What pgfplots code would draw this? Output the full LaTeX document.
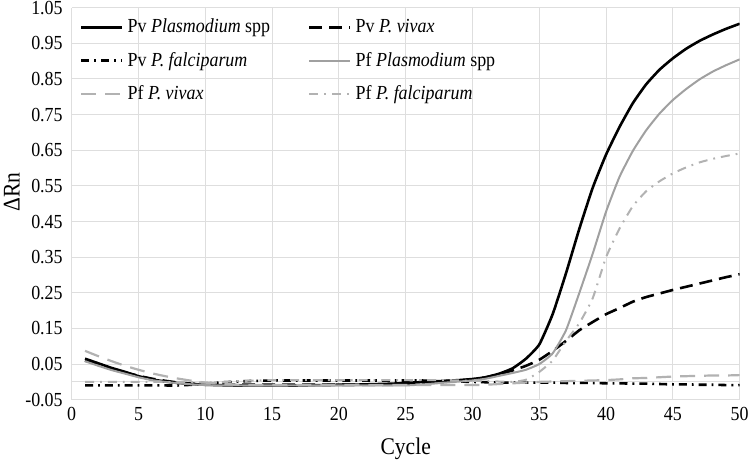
\documentclass[border=0pt]{standalone}
\usepackage{fontspec}
\setmainfont{Liberation Serif}[FakeStretch=0.9]
\usepackage{pgfplots}
\usepackage{pgfplotstable}
\pgfplotsset{compat=1.18}
\definecolor{gridgray}{HTML}{DEDEDE}
\definecolor{pfsolid}{HTML}{A0A0A0}
\definecolor{pflight}{HTML}{B2B2B2}

\pgfplotstableread{
c pvspp pvviv pvfal pfspp pfviv pffal
1 0.065 0.060 -0.010 0.058 0.087 0.000
2 0.052 0.048 -0.010 0.045 0.072 0.000
3 0.039 0.036 -0.010 0.033 0.058 0.000
4 0.028 0.026 -0.010 0.023 0.045 0.000
5 0.016 0.017 -0.010 0.013 0.034 0.000
6 0.007 0.009 -0.010 0.005 0.024 0.000
7 0.001 0.003 -0.010 0.000 0.016 0.000
8 -0.003 -0.002 -0.010 -0.004 0.009 0.000
9 -0.006 -0.005 -0.008 -0.007 0.003 -0.001
10 -0.008 -0.007 -0.005 -0.009 -0.002 -0.002
11 -0.009 -0.008 -0.002 -0.010 -0.005 -0.001
12 -0.010 -0.008 0.000 -0.010 -0.007 0.001
13 -0.010 -0.008 0.002 -0.010 -0.009 0.003
14 -0.010 -0.008 0.003 -0.010 -0.009 0.004
15 -0.010 -0.008 0.004 -0.010 -0.009 0.005
16 -0.010 -0.008 0.004 -0.010 -0.009 0.005
17 -0.010 -0.008 0.004 -0.010 -0.009 0.005
18 -0.009 -0.008 0.004 -0.010 -0.009 0.005
19 -0.009 -0.008 0.004 -0.010 -0.009 0.005
20 -0.008 -0.008 0.004 -0.010 -0.009 0.005
21 -0.008 -0.008 0.004 -0.010 -0.009 0.005
22 -0.007 -0.008 0.004 -0.010 -0.009 0.005
23 -0.006 -0.008 0.004 -0.010 -0.009 0.005
24 -0.005 -0.008 0.004 -0.010 -0.009 0.005
25 -0.003 -0.006 0.004 -0.010 -0.009 0.005
26 -0.001 -0.004 0.004 -0.008 -0.009 0.005
27 0.001 -0.001 0.003 -0.005 -0.009 0.005
28 0.003 0.002 0.002 -0.002 -0.009 0.005
29 0.005 0.004 0.001 0.001 -0.009 0.004
30 0.008 0.007 0.000 0.004 -0.009 0.003
31 0.013 0.013 -0.001 0.009 -0.008 0.002
32 0.023 0.022 -0.002 0.017 -0.006 0.001
33 0.038 0.032 -0.002 0.025 -0.004 0.000
34 0.065 0.045 -0.002 0.034 -0.002 0.006
35 0.105 0.062 -0.002 0.050 0.000 0.028
36 0.190 0.087 -0.002 0.080 0.001 0.060
37 0.305 0.115 -0.003 0.145 0.002 0.115
38 0.430 0.145 -0.003 0.250 0.003 0.165
39 0.545 0.168 -0.003 0.360 0.004 0.235
40 0.638 0.190 -0.004 0.478 0.005 0.350
41 0.715 0.207 -0.004 0.575 0.007 0.430
42 0.782 0.225 -0.005 0.648 0.010 0.493
43 0.835 0.238 -0.005 0.706 0.011 0.535
44 0.876 0.248 -0.006 0.753 0.013 0.563
45 0.908 0.258 -0.007 0.791 0.015 0.585
46 0.935 0.267 -0.007 0.822 0.016 0.602
47 0.957 0.276 -0.008 0.849 0.017 0.616
48 0.975 0.285 -0.008 0.871 0.018 0.626
49 0.991 0.294 -0.009 0.889 0.018 0.634
50 1.005 0.302 -0.009 0.905 0.019 0.641
}\qdata

\begin{document}
\begin{tikzpicture}
\begin{axis}[
  scale only axis,
  width=334bp, height=196bp,
  xmin=0, xmax=50, ymin=-0.05, ymax=1.05,
  xtick={0,5,10,15,20,25,30,35,40,45,50},
  xticklabels={0,5,10,15,20,25,30,35,40,45,50},
  ytick={-0.05,0.05,0.15,0.25,0.35,0.45,0.55,0.65,0.75,0.85,0.95,1.05},
  yticklabels={-0.05,0.05,0.15,0.25,0.35,0.45,0.55,0.65,0.75,0.85,0.95,1.05},
  extra y ticks={0}, extra y tick labels={},
  extra y tick style={grid=major, major grid style={color=gridgray, line width=0.5bp}},
  grid=major,
  major grid style={color=gridgray, line width=0.5bp},
  axis line style={draw=none},
  major tick length=0pt,
  tick label style={font=\fontsize{10}{12}\selectfont},
  xticklabel style={yshift=-0.5bp},
  yticklabel style={xshift=-1bp},
  xlabel={Cycle},
  ylabel={ΔRn},
  every axis x label/.style={at={(axis description cs:0.5,0)}, anchor=base, yshift=-27.5bp, font=\fontsize{12}{14}\selectfont},
  every axis y label/.style={at={([xshift=-30bp]axis description cs:0,0.53)}, rotate=90, anchor=center, font=\fontsize{12}{14}\selectfont},
  legend columns=2,
  legend cell align=left,
  legend style={at={(0.003,0.993)}, anchor=north west, draw=none, fill=none,
    font=\fontsize{10}{12}\selectfont, row sep=4.25bp,
    /tikz/every even column/.append style={column sep=17bp}},
  legend image code/.code={\draw[#1] (0bp,0bp) -- (20.5bp,0bp);},
  every axis plot/.append style={smooth, tension=0.3},
]
\addplot[black, line width=1.3bp, no marks] table[x=c, y=pvspp] {\qdata};
\addlegendentry{Pv \textit{Plasmodium} spp}
\addplot[black, line width=1.3bp, no marks, dash pattern=on 6.5bp off 3.5bp] table[x=c, y=pvviv] {\qdata};
\addlegendentry{Pv \textit{P. vivax}}
\addplot[black, line width=1.3bp, no marks, dash pattern=on 4bp off 2.5bp on 0.9bp off 2.5bp] table[x=c, y=pvfal] {\qdata};
\addlegendentry{Pv \textit{P. falciparum}}
\addplot[pfsolid, line width=1bp, no marks] table[x=c, y=pfspp] {\qdata};
\addlegendentry{Pf \textit{Plasmodium} spp}
\addplot[pflight, line width=1.1bp, no marks, dash pattern=on 7.5bp off 4.5bp] table[x=c, y=pfviv] {\qdata};
\addlegendentry{Pf \textit{P. vivax}}
\addplot[pflight, line width=1bp, no marks, dash pattern=on 4.5bp off 3bp on 0.9bp off 3bp] table[x=c, y=pffal] {\qdata};
\addlegendentry{Pf \textit{P. falciparum}}
\coordinate (sw) at (rel axis cs:0,0);
\end{axis}
\pgfresetboundingbox
\path (sw) ++(-35.85bp,-30.65bp) rectangle ++(375bp,230.5bp);
\end{tikzpicture}
\end{document}
